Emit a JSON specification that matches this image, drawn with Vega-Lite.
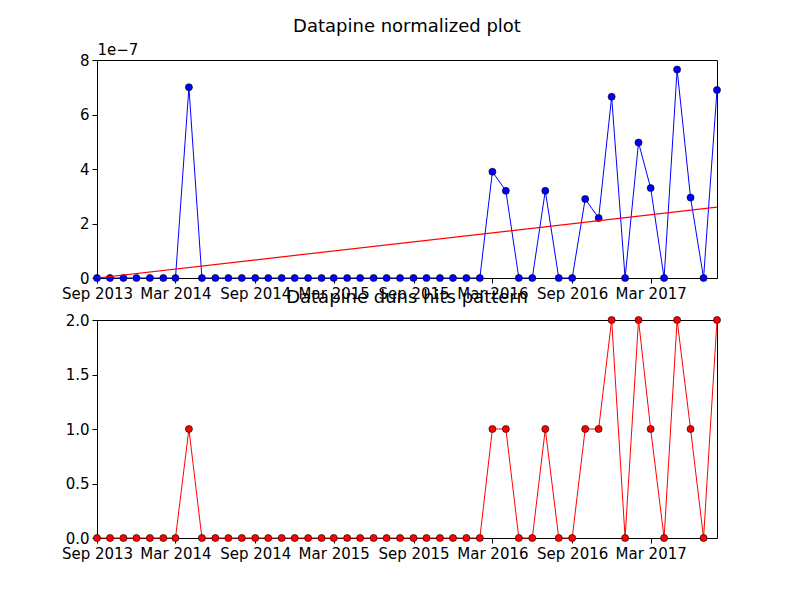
{
  "$schema": "https://vega.github.io/schema/vega-lite/v6.json",
  "padding": {"left": 60, "top": 17, "right": 20, "bottom": 10},
  "config": {
    "font": "DejaVu Sans",
    "view": {"stroke": "black", "strokeWidth": 1},
    "axis": {"grid": false, "domain": false, "labelFontSize": 15, "labelColor": "black", "tickColor": "black", "tickSize": 5, "labelPadding": 3, "labelOverlap": false},
    "title": {"fontSize": 18, "fontWeight": "normal", "color": "black", "offset": 6}
  },
  "datasets": {
    "hits": [
      {"date": "2013-09-01", "norm": 0, "count": 0},
      {"date": "2013-10-01", "norm": 0, "count": 0},
      {"date": "2013-11-01", "norm": 0, "count": 0},
      {"date": "2013-12-01", "norm": 0, "count": 0},
      {"date": "2014-01-01", "norm": 0, "count": 0},
      {"date": "2014-02-01", "norm": 0, "count": 0},
      {"date": "2014-03-01", "norm": 0, "count": 0},
      {"date": "2014-04-01", "norm": 7.0, "count": 1},
      {"date": "2014-05-01", "norm": 0, "count": 0},
      {"date": "2014-06-01", "norm": 0, "count": 0},
      {"date": "2014-07-01", "norm": 0, "count": 0},
      {"date": "2014-08-01", "norm": 0, "count": 0},
      {"date": "2014-09-01", "norm": 0, "count": 0},
      {"date": "2014-10-01", "norm": 0, "count": 0},
      {"date": "2014-11-01", "norm": 0, "count": 0},
      {"date": "2014-12-01", "norm": 0, "count": 0},
      {"date": "2015-01-01", "norm": 0, "count": 0},
      {"date": "2015-02-01", "norm": 0, "count": 0},
      {"date": "2015-03-01", "norm": 0, "count": 0},
      {"date": "2015-04-01", "norm": 0, "count": 0},
      {"date": "2015-05-01", "norm": 0, "count": 0},
      {"date": "2015-06-01", "norm": 0, "count": 0},
      {"date": "2015-07-01", "norm": 0, "count": 0},
      {"date": "2015-08-01", "norm": 0, "count": 0},
      {"date": "2015-09-01", "norm": 0, "count": 0},
      {"date": "2015-10-01", "norm": 0, "count": 0},
      {"date": "2015-11-01", "norm": 0, "count": 0},
      {"date": "2015-12-01", "norm": 0, "count": 0},
      {"date": "2016-01-01", "norm": 0, "count": 0},
      {"date": "2016-02-01", "norm": 0, "count": 0},
      {"date": "2016-03-01", "norm": 3.9, "count": 1},
      {"date": "2016-04-01", "norm": 3.2, "count": 1},
      {"date": "2016-05-01", "norm": 0, "count": 0},
      {"date": "2016-06-01", "norm": 0, "count": 0},
      {"date": "2016-07-01", "norm": 3.2, "count": 1},
      {"date": "2016-08-01", "norm": 0, "count": 0},
      {"date": "2016-09-01", "norm": 0, "count": 0},
      {"date": "2016-10-01", "norm": 2.9, "count": 1},
      {"date": "2016-11-01", "norm": 2.2, "count": 1},
      {"date": "2016-12-01", "norm": 6.65, "count": 2},
      {"date": "2017-01-01", "norm": 0, "count": 0},
      {"date": "2017-02-01", "norm": 4.97, "count": 2},
      {"date": "2017-03-01", "norm": 3.3, "count": 1},
      {"date": "2017-04-01", "norm": 0, "count": 0},
      {"date": "2017-05-01", "norm": 7.65, "count": 2},
      {"date": "2017-06-01", "norm": 2.95, "count": 1},
      {"date": "2017-07-01", "norm": 0, "count": 0},
      {"date": "2017-08-01", "norm": 6.9, "count": 2}
    ],
    "trend": [
      {"date": "2013-09-01", "norm": 0.0},
      {"date": "2017-08-01", "norm": 2.6}
    ]
  },
  "vconcat": [
    {
      "title": "Datapine normalized plot",
      "width": 620,
      "height": 218,
      "layer": [
        {
          "data": {"name": "hits"},
          "mark": {"type": "line", "color": "#0000ff", "strokeWidth": 1},
          "encoding": {
            "x": {"field": "date", "type": "temporal", "title": null,
              "scale": {"type": "utc", "domain": ["2013-09-01", "2017-08-01"]},
              "axis": {"values": ["2013-09-01", "2014-03-01", "2014-09-01", "2015-03-01", "2015-09-01", "2016-03-01", "2016-09-01", "2017-03-01"], "labelExpr": "utcFormat(datum.value, '%b %Y')", "labelFlush": false}},
            "y": {"field": "norm", "type": "quantitative", "scale": {"domain": [0, 8]},
              "axis": {"values": [0, 1, 2, 3, 4, 5, 6, 7, 8], "title": "1e\u22127", "titleAngle": 0, "titleFontSize": 15, "titleFontWeight": "normal", "titleAnchor": "end", "titleAlign": "left", "titleBaseline": "bottom", "titleX": 0, "titleY": -3}}
          }
        },
        {
          "data": {"name": "hits"},
          "mark": {"type": "point", "filled": true, "color": "#0000ff", "size": 50, "opacity": 1, "stroke": "black", "strokeWidth": 0.6},
          "encoding": {
            "x": {"field": "date", "type": "temporal"},
            "y": {"field": "norm", "type": "quantitative"}
          }
        },
        {
          "data": {"name": "trend"},
          "mark": {"type": "line", "color": "#ff0000", "strokeWidth": 1.2, "clip": true},
          "encoding": {
            "x": {"field": "date", "type": "temporal"},
            "y": {"field": "norm", "type": "quantitative"}
          }
        }
      ]
    },
    {
      "title": "Datapine duns hits pattern",
      "width": 620,
      "height": 218,
      "data": {"name": "hits"},
      "layer": [
        {
          "mark": {"type": "line", "color": "#ff0000", "strokeWidth": 1},
          "encoding": {
            "x": {"field": "date", "type": "temporal", "title": null,
              "scale": {"type": "utc", "domain": ["2013-09-01", "2017-08-01"]},
              "axis": {"values": ["2013-09-01", "2014-03-01", "2014-09-01", "2015-03-01", "2015-09-01", "2016-03-01", "2016-09-01", "2017-03-01"], "labelExpr": "utcFormat(datum.value, '%b %Y')", "labelFlush": false}},
            "y": {"field": "count", "type": "quantitative", "title": null, "scale": {"domain": [0, 2]},
              "axis": {"values": [0, 0.5, 1, 1.5, 2], "format": ".1f"}}
          }
        },
        {
          "mark": {"type": "point", "filled": true, "color": "#ff0000", "size": 50, "opacity": 1, "stroke": "black", "strokeWidth": 0.6},
          "encoding": {
            "x": {"field": "date", "type": "temporal"},
            "y": {"field": "count", "type": "quantitative"}
          }
        }
      ]
    }
  ],
  "spacing": -14
}
